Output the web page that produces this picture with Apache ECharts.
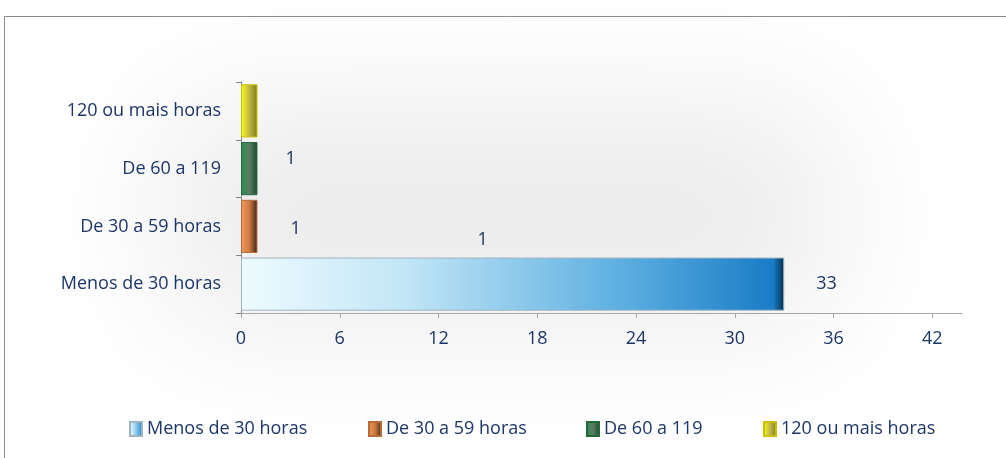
<!DOCTYPE html>
<html>
<head>
<meta charset="utf-8">
<script src="https://cdn.jsdelivr.net/npm/echarts@6/dist/echarts.min.js"></script>
<style>
  html, body { margin: 0; padding: 0; background: #fff; }
  #chart { width: 1006px; height: 458px; }
</style>
</head>
<body>
<div id="chart"></div>
<script>
var categories = ['Menos de 30 horas', 'De 30 a 59 horas', 'De 60 a 119', '120 ou mais horas'];
var valMenos30 = [33, '-', '-', '-'];
var val30a59 = ['-', 1, '-', '-'];
var val60a119 = ['-', '-', 1, '-'];
var val120mais = ['-', '-', '-', 1];
var xTicks = [0, 6, 12, 18, 24, 30, 36, 42];

var txt = '#1b3668';
var font = 'Open Sans';

function grad(stops) {
    return new echarts.graphic.LinearGradient(0, 0, 1, 0, stops);
}

var chart = echarts.init(document.getElementById('chart'));

function makeSeries(name, data, color, border, label) {
    return {
        name: name,
        type: 'bar',
        stack: 'total',
        data: data,
        barCategoryGap: '8%',
        itemStyle: { color: color, borderColor: border, borderWidth: 1 },
        label: label
    };
}

// one legend per entry so each sits where the original put it
var legendLefts = [124, 363, 581, 758];
var legends = categories.map(function (c, i) {
    return {
        left: legendLefts[i],
        top: 415,
        icon: 'rect',
        itemWidth: 12,
        itemHeight: 14,
        textStyle: { color: txt, fontFamily: font, fontSize: 18 },
        data: [c]
    };
});

var option = {
    animation: false,
    graphic: [
        {
            // soft grey glow behind the plot: only the blurred shadow is on screen
            type: 'rect', silent: true, z: -10,
            shape: { x: 2170, y: 110, width: 660, height: 210 },
            style: {
                fill: '#ebebeb', shadowBlur: 150, shadowColor: '#eaeaea',
                shadowOffsetX: -2000, shadowOffsetY: 0
            }
        },
        {
            type: 'rect', silent: true, z: -5,
            shape: { x: 4.5, y: 16.5, width: 1100, height: 500 },
            style: { fill: 'none', stroke: '#8c8c8c', lineWidth: 1 }
        }
    ],
    legend: legends,
    grid: { left: 241, right: 44, top: 82, bottom: 145 },
    xAxis: {
        type: 'value',
        min: 0,
        max: 43.8,
        interval: 2,
        splitLine: { show: false },
        axisLine: { show: true, lineStyle: { color: '#a6a6a6' } },
        axisTick: { show: true, length: 5, customValues: xTicks, lineStyle: { color: '#a6a6a6' } },
        axisLabel: { customValues: xTicks, color: txt, fontFamily: font, fontSize: 18, margin: 17 }
    },
    yAxis: {
        type: 'category',
        data: categories,
        axisLine: { show: true, lineStyle: { color: '#868686' } },
        axisTick: { show: true, length: 5, lineStyle: { color: '#868686' } },
        axisLabel: { color: txt, fontFamily: font, fontSize: 18, margin: 20 }
    },
    series: [
        makeSeries(categories[0], valMenos30,
            new echarts.graphic.LinearGradient(0, 0, 1, 0, [
                { offset: 0, color: '#eefbff' },
                { offset: 0.3, color: '#c2e6f6' },
                { offset: 0.7, color: '#5dafe1' },
                { offset: 0.98, color: '#1a7cc5' },
                { offset: 1, color: '#06304f' }
            ]), '#9fb3c0',
            { show: true, position: 'right', distance: 32, color: txt, fontFamily: font, fontSize: 18 }),
        makeSeries(categories[1], val30a59,
            grad([
                { offset: 0, color: '#f29a5a' },
                { offset: 0.5, color: '#d07b45' },
                { offset: 1, color: '#3c2414' }
            ]), '#b86a35',
            { show: true, position: 'right', distance: 33, offset: [0, 2], color: txt, fontFamily: font, fontSize: 18 }),
        makeSeries(categories[2], val60a119,
            grad([
                { offset: 0, color: '#2f8a55' },
                { offset: 0.5, color: '#5b7d63' },
                { offset: 1, color: '#1c4a2e' }
            ]), '#1f6a3d',
            { show: true, position: 'right', distance: 28, offset: [0, -10], color: txt, fontFamily: font, fontSize: 18 }),
        makeSeries(categories[3], val120mais,
            grad([
                { offset: 0, color: '#fdfd10' },
                { offset: 0.5, color: '#c0b84a' },
                { offset: 1, color: '#7d7a10' }
            ]), '#c8c000',
            { show: true, position: 'right', distance: 0, offset: [220, 129], color: txt, fontFamily: font, fontSize: 18 })
    ]
};

chart.setOption(option);
window.onresize = chart.resize;
</script>
</body>
</html>
